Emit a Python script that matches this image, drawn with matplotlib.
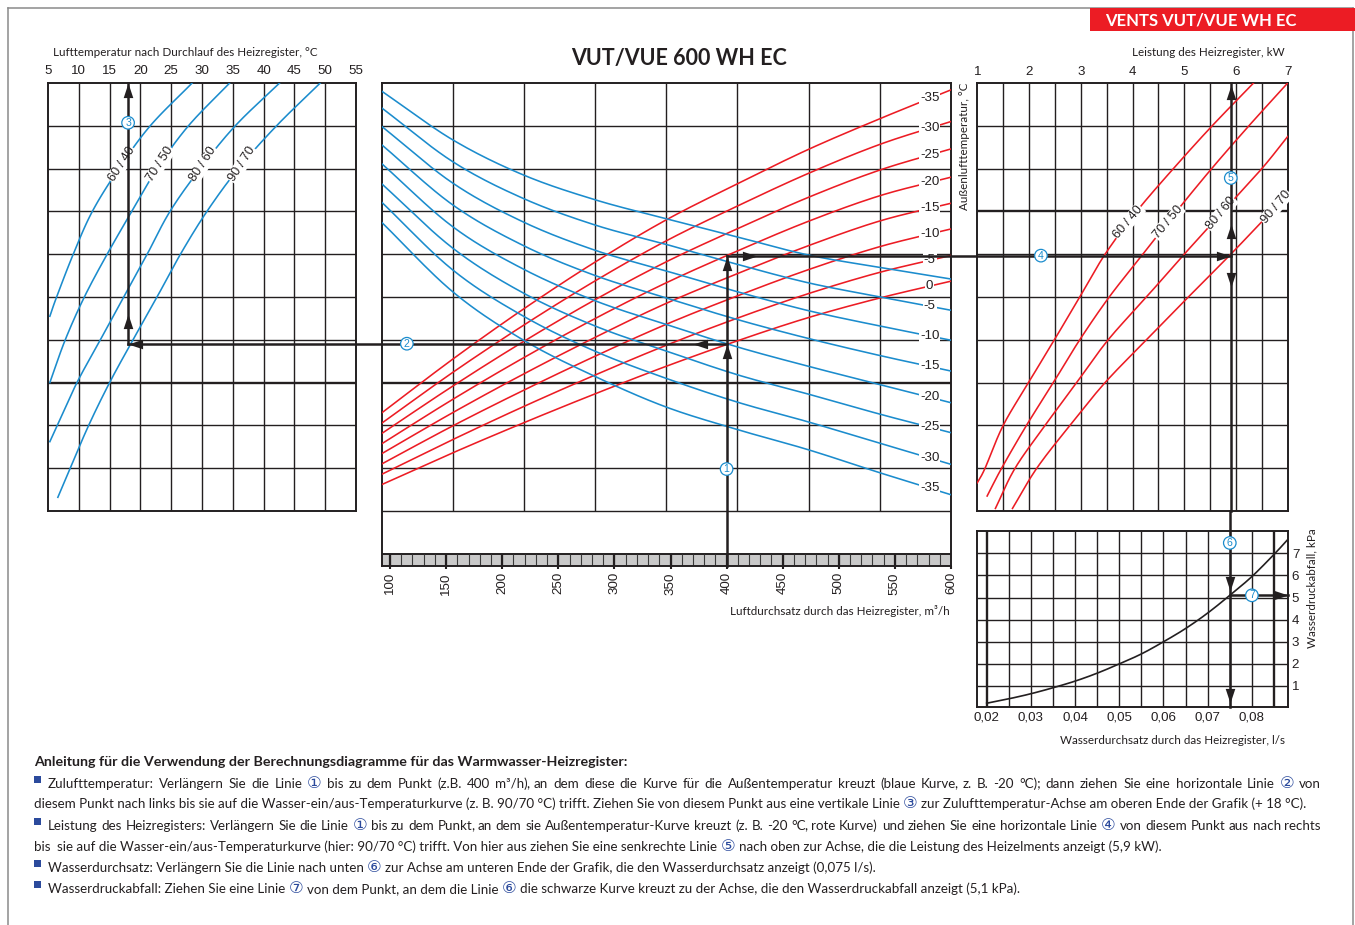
import numpy as np
import matplotlib
matplotlib.use("Agg")
import matplotlib.pyplot as plt
import matplotlib.transforms as mtransforms
from matplotlib.lines import Line2D
from matplotlib.patches import Rectangle

plt.rcParams['font.family'] = ['Lato', 'DejaVu Sans']

# ==============================================================================
# Data
# ==============================================================================
# centre chart: curves read at the grid columns (m3/h), values in grid rows (0 = bottom, 10 = top)
airflow = [92, 156, 219, 283, 346, 410, 473, 537, 600]

# blue family: supply air temperature, one row per outdoor temperature
blue_curves = {
    0:   [9.82, 8.67, 7.85, 7.27, 6.83, 6.40, 5.98, 5.69, 5.42],
    -5:  [9.43, 8.16, 7.30, 6.68, 6.23, 5.76, 5.33, 5.00, 4.69],
    -10: [9.00, 7.66, 6.75, 6.09, 5.61, 5.12, 4.68, 4.32, 3.99],
    -15: [8.57, 7.15, 6.20, 5.50, 4.98, 4.47, 4.03, 3.63, 3.27],
    -20: [8.13, 6.64, 5.65, 4.91, 4.36, 3.83, 3.38, 2.95, 2.53],
    -25: [7.66, 6.14, 5.09, 4.32, 3.74, 3.18, 2.73, 2.26, 1.83],
    -30: [7.23, 5.63, 4.55, 3.73, 3.10, 2.54, 2.08, 1.58, 1.09],
    -35: [6.76, 5.12, 3.99, 3.14, 2.43, 1.90, 1.43, 0.89, 0.38],
}

# red family: heater output, one row per outdoor temperature
red_curves = {
    -35: [2.28, 3.55, 4.72, 5.82, 6.80, 7.65, 8.45, 9.17, 9.84],
    -30: [2.04, 3.24, 4.34, 5.38, 6.31, 7.13, 7.89, 8.57, 9.10],
    -25: [1.80, 2.92, 3.96, 4.94, 5.82, 6.60, 7.33, 7.97, 8.46],
    -20: [1.56, 2.61, 3.58, 4.50, 5.33, 6.08, 6.77, 7.37, 7.80],
    -15: [1.33, 2.30, 3.20, 4.06, 4.85, 5.55, 6.20, 6.78, 7.19],
    -10: [1.09, 1.99, 2.82, 3.62, 4.36, 5.03, 5.64, 6.18, 6.59],
    -5:  [0.85, 1.67, 2.44, 3.18, 3.87, 4.51, 5.08, 5.58, 5.97],
    0:   [0.61, 1.36, 2.06, 2.74, 3.38, 3.98, 4.52, 4.98, 5.37],
}

# left chart: supply air temperature (deg C) against grid row, per water in/out pair
water_pairs = ['60 / 40', '70 / 50', '80 / 60', '90 / 70']
supply_rows = [
    [4.55, 5, 6, 7, 8, 9, 10],
    [3.0, 4, 5, 6, 7, 8, 9, 10],
    [1.62, 2, 3, 4, 5, 6, 7, 8, 9, 10],
    [0.32, 1, 2, 3, 4, 5, 6, 7, 8, 9, 10],
]
supply_temp = [
    [5.3, 6.4, 9.1, 12.2, 16.5, 21.6, 28.4],
    [5.3, 7.8, 10.9, 14.6, 18.6, 22.7, 27.8, 34.5],
    [5.3, 6.5, 9.7, 13.5, 17.3, 21.1, 24.8, 29.7, 35.4, 42.6],
    [6.6, 8.6, 11.6, 15.0, 18.8, 22.7, 26.5, 30.8, 35.9, 42.1, 49.2],
]

# right chart: heater output (kW) against grid row
power_rows = [
    [0.66, 1, 2, 3, 4, 5, 6, 7, 8, 9, 10],
    [0.35, 1, 2, 3, 4, 5, 6, 7, 8, 9, 10],
    [0.06, 1, 2, 3, 4, 5, 6, 7, 8, 8.75],
    [0.06, 1, 2, 3, 4, 5, 6, 7, 7.39],
]
power_kw = [
    [1.0, 1.15, 1.50, 1.99, 2.49, 2.98, 3.47, 4.08, 4.79, 5.54, 6.34],
    [1.19, 1.47, 1.95, 2.47, 2.98, 3.55, 4.20, 4.85, 5.53, 6.25, 7.0],
    [1.35, 1.73, 2.31, 2.92, 3.53, 4.27, 5.00, 5.75, 6.50, 7.0],
    [1.68, 2.15, 2.79, 3.47, 4.27, 5.08, 5.90, 6.69, 7.0],
]

# water pressure drop curve
water_flow = [0.02, 0.025, 0.03, 0.035, 0.04, 0.045, 0.05, 0.055, 0.06, 0.065, 0.07, 0.075, 0.08, 0.085, 0.088]
pressure_drop = [0.22, 0.42, 0.65, 0.92, 1.22, 1.58, 2.0, 2.45, 3.0, 3.6, 4.3, 5.1, 5.95, 6.95, 7.6]

# worked example
example_airflow = 400       # m3/h
example_outdoor = -20       # deg C
example_supply = 18         # deg C
example_power = 5.9         # kW
example_water_flow = 0.075  # l/s
example_drop = 5.1          # kPa

left_ticks = list(range(5, 56, 5))
airflow_ticks = list(range(100, 601, 50))
power_ticks = [1, 2, 3, 4, 5, 6, 7]
flow_ticks = [0.02, 0.03, 0.04, 0.05, 0.06, 0.07, 0.08]
flow_labels = ['0,02', '0,03', '0,04', '0,05', '0,06', '0,07', '0,08']
drop_ticks = [1, 2, 3, 4, 5, 6, 7]

notes_title = 'Anleitung für die Verwendung der Berechnungsdiagramme für das Warmwasser-Heizregister:'
notes = [
    (True, True, 'Zulufttemperatur: Verlängern Sie die Linie ① bis zu dem Punkt (z.B. 400 m³/h), an dem diese die Kurve '
                 'für die Außentemperatur kreuzt (blaue Kurve, z. B. -20 °C); dann ziehen Sie eine horizontale Linie ② von'),
    (False, False, 'diesem Punkt nach links bis sie auf die Wasser-ein/aus-Temperaturkurve (z. B. 90/70 °C) trifft. Ziehen Sie '
                   'von diesem Punkt aus eine vertikale Linie ③ zur Zulufttemperatur-Achse am oberen Ende der Grafik (+ 18 °C).'),
    (True, True, 'Leistung des Heizregisters: Verlängern Sie die Linie ① bis zu dem Punkt, an dem sie Außentemperatur-Kurve '
                 'kreuzt (z. B. -20 °C, rote Kurve) und ziehen Sie eine horizontale Linie ④ von diesem Punkt aus nach rechts'),
    (False, False, 'bis  sie auf die Wasser-ein/aus-Temperaturkurve (hier: 90/70 °C) trifft. Von hier aus ziehen Sie eine '
                   'senkrechte Linie ⑤ nach oben zur Achse, die die Leistung des Heizelments anzeigt (5,9 kW).'),
    (True, False, 'Wasserdurchsatz: Verlängern Sie die Linie nach unten ⑥ zur Achse am unteren Ende der Grafik, die den '
                  'Wasserdurchsatz anzeigt (0,075 l/s).'),
    (True, False, 'Wasserdruckabfall: Ziehen Sie eine Linie ⑦ von dem Punkt, an dem die Linie ⑥ die schwarze Kurve kreuzt '
                  'zu der Achse, die den Wasserdruckabfall anzeigt (5,1 kPa).'),
]
CIRCLED = '①②③④⑤⑥⑦'

# ==============================================================================
# Style
# ==============================================================================
W, H = 1355, 925
INK = '#231f20'
RED = '#ec1c24'
BLUE = '#1b8ccd'
NAVY = '#2b4a9c'
NUM = 'Liberation Sans'
GRID_LW = 1.0
THICK_LW = 1.7
ARROW_LW = 1.8
CAPTION = 8.4

fig = plt.figure(figsize=(W / 100, H / 100), dpi=100)
fig.patch.set_facecolor('white')


def fxy(x, y):
    return x / W, 1 - y / H


def panel(x0, y0, x1, y1):
    ax = fig.add_axes([x0 / W, 1 - y1 / H, (x1 - x0) / W, (y1 - y0) / H])
    ax.patch.set_alpha(0)
    for s in ax.spines.values():
        s.set_linewidth(1.4)
        s.set_color(INK)
    ax.tick_params(length=0, labelsize=9.6, colors=INK)
    return ax


def smooth(xs, ys, n=20):
    # Catmull-Rom path through the read points, only for drawing
    p = np.column_stack([xs, ys]).astype(float)
    p = np.vstack([2 * p[0] - p[1], p, 2 * p[-1] - p[-2]])
    t = np.linspace(0, 1, n, endpoint=False)[:, None]
    out = []
    for i in range(1, len(p) - 2):
        p0, p1, p2, p3 = p[i - 1], p[i], p[i + 1], p[i + 2]
        out.append(0.5 * (2 * p1 + (-p0 + p2) * t + (2 * p0 - 5 * p1 + 4 * p2 - p3) * t ** 2
                          + (-p0 + 3 * p1 - 3 * p2 + p3) * t ** 3))
    out.append(p[-2][None, :])
    out = np.vstack(out)
    return out[:, 0], out[:, 1]


HEADS = {
    'up':    [(0, 0), (-0.33, -1), (0.33, -1), (0, 0)],
    'down':  [(0, 0), (-0.33, 1), (0.33, 1), (0, 0)],
    'left':  [(0, 0), (1, -0.33), (1, 0.33), (0, 0)],
    'right': [(0, 0), (-1, -0.33), (-1, 0.33), (0, 0)],
}


def head(ax, x, y, way, dx=0, dy=0):
    tr = mtransforms.offset_copy(ax.transData, fig=fig, x=dx, y=dy, units='dots')
    ax.plot([x], [y], marker=HEADS[way], ms=21, color=INK, mew=0, transform=tr,
            clip_on=False, zorder=8)


def step(ax, x, y, num):
    ax.text(x, y, str(num), ha='center', va='center', fontsize=7.6, color=BLUE, family=NUM,
            zorder=9, bbox=dict(boxstyle='circle,pad=0.12', fc='white', ec=BLUE, lw=0.9))


def carry(pt, src, dst):
    return dst.transData.inverted().transform(src.transData.transform(pt))


def guide(ax, xs, ys):
    ax.plot(xs, ys, color=INK, lw=ARROW_LW, solid_capstyle='projecting', clip_on=False, zorder=7)


# ==============================================================================
# Left: supply air temperature
# ==============================================================================
ax_l = panel(48, 83, 356, 511)
ax_l.set_xlim(5, 55)
ax_l.set_ylim(0, 10)
ax_l.vlines(left_ticks[1:-1], 0, 10, color=INK, lw=GRID_LW, zorder=1)
for r in range(1, 10):
    ax_l.axhline(r, color=INK, lw=THICK_LW if r == 3 else GRID_LW, zorder=1)
ax_l.xaxis.tick_top()
ax_l.set_xticks(left_ticks)
ax_l.set_xticklabels([str(v) for v in left_ticks], family=NUM, fontsize=9.6)
ax_l.tick_params(axis='x', pad=4.5)
ax_l.set_yticks([])
for rows, temps, name in zip(supply_rows, supply_temp, water_pairs):
    sx, sy = smooth(temps, rows)
    ax_l.plot(sx, sy, color=BLUE, lw=1.15, zorder=3)
    lab_y = 8.1
    ax_l.text(np.interp(lab_y, sy, sx), lab_y, name, rotation=57, ha='center', va='center',
              fontsize=9.2, family=NUM, color=INK, zorder=4,
              bbox=dict(boxstyle='square,pad=0.05', fc='white', ec='none'))
fig.text(*fxy(185, 52), 'Lufttemperatur nach Durchlauf des Heizregister, °C', ha='center', va='center',
         fontsize=CAPTION, color=INK)

# ==============================================================================
# Centre: airflow
# ==============================================================================
ax_m = panel(381.5, 83, 951, 566)
ax_m.set_xlim(92.4, 600)
ax_m.set_ylim(-1.285, 10)
cols = np.linspace(92.4, 600, 9)
ax_m.vlines(cols[1:-1], 0, 10, color=INK, lw=GRID_LW, zorder=1)
for r in range(0, 10):
    ax_m.axhline(r, color=INK, lw=THICK_LW if r == 3 else GRID_LW, zorder=1)
ax_m.axhline(-1.0, color=INK, lw=1.4, zorder=2)
ax_m.add_patch(Rectangle((92.4, -1.285), 600 - 92.4, 0.285, fc='#c9c9c9', ec='none', zorder=1))
ax_m.vlines(np.arange(100, 600, 10), -1.285, -1.0, color='#3a3a3a', lw=0.8, zorder=2)
ax_m.vlines(airflow_ticks[:-1], -1.285, -1.0, color=INK, lw=1.6, zorder=2)
ax_m.set_xticks(airflow_ticks)
ax_m.set_xticklabels([str(v) for v in airflow_ticks], rotation=90, family=NUM, fontsize=9.6)
ax_m.tick_params(axis='x', length=2.5, width=1.5, direction='out', pad=2)
ax_m.set_yticks([])

label_x = 581
for t, vals in red_curves.items():
    sx, sy = smooth(airflow, vals)
    ax_m.plot(sx, sy, color=RED, lw=1.15, zorder=3)
    ax_m.text(label_x, np.interp(label_x, sx, sy), str(t), ha='center', va='center', fontsize=9.6,
              family=NUM, color=INK, zorder=5, bbox=dict(boxstyle='square,pad=0.08', fc='white', ec='none'))
for t, vals in blue_curves.items():
    sx, sy = smooth(airflow, vals)
    ax_m.plot(sx, sy, color=BLUE, lw=1.15, zorder=3)
    if t != 0:
        ax_m.text(label_x, np.interp(label_x, sx, sy), str(t), ha='center', va='center', fontsize=9.6,
                  family=NUM, color=INK, zorder=5, bbox=dict(boxstyle='square,pad=0.08', fc='white', ec='none'))

fig.text(*fxy(679, 59), 'VUT/VUE 600 WH EC', ha='center', va='center', fontsize=15.5,
         weight='bold', color=INK)
fig.text(*fxy(950, 611), 'Luftdurchsatz durch das Heizregister, m³/h', ha='right', va='center',
         fontsize=CAPTION, color=INK)
fig.text(*fxy(964, 83), 'Außenlufttemperatur, °C', rotation=90, ha='center', va='top',
         fontsize=CAPTION, color=INK)

# ==============================================================================
# Right: heater output
# ==============================================================================
ax_r = panel(977.3, 83, 1287.7, 511)
ax_r.set_xlim(1, 7)
ax_r.set_ylim(0, 10)
ax_r.vlines(np.arange(1.5, 7, 0.5), 0, 10, color=INK, lw=GRID_LW, zorder=1)
for r in range(1, 10):
    ax_r.axhline(r, color=INK, lw=THICK_LW if r == 7 else GRID_LW, zorder=1)
ax_r.xaxis.tick_top()
ax_r.set_xticks(power_ticks)
ax_r.set_xticklabels([str(v) for v in power_ticks], family=NUM, fontsize=9.6)
ax_r.tick_params(axis='x', pad=3.5)
ax_r.set_yticks([])
power_label_rows = [6.75, 6.75, 6.95, 7.1]
for rows, kw, name, lab_y in zip(power_rows, power_kw, water_pairs, power_label_rows):
    sx, sy = smooth(kw, rows)
    ax_r.plot(sx, sy, color=RED, lw=1.15, zorder=3)
    ax_r.text(np.interp(lab_y, sy, sx), lab_y, name, rotation=50, ha='center', va='center',
              fontsize=9.2, family=NUM, color=INK, zorder=4,
              bbox=dict(boxstyle='square,pad=0.05', fc='white', ec='none'))
fig.text(*fxy(1285, 52), 'Leistung des Heizregister, kW', ha='right', va='center', fontsize=CAPTION,
         color=INK)

# ==============================================================================
# Bottom right: water pressure drop
# ==============================================================================
ax_d = panel(977.3, 531, 1287.7, 707)
ax_d.set_xlim(0.01788, 0.0881)
ax_d.set_ylim(0.05, 8.01)
vgrid = np.arange(0.02, 0.0851, 0.005)
ax_d.vlines(vgrid, 0.05, 8.01, color=INK,
            lw=[THICK_LW if i in (0, len(vgrid) - 1) else GRID_LW for i in range(len(vgrid))], zorder=1)
ax_d.hlines(drop_ticks, 0.01788, 0.0881, color=INK, lw=GRID_LW, zorder=1)
sx, sy = smooth(water_flow, pressure_drop)
ax_d.plot(sx, sy, color=INK, lw=1.2, zorder=3)
ax_d.set_xticks(flow_ticks)
ax_d.set_xticklabels(flow_labels, family=NUM, fontsize=9.6)
ax_d.tick_params(axis='x', pad=3)
ax_d.yaxis.tick_right()
ax_d.set_yticks(drop_ticks)
ax_d.set_yticklabels([str(v) for v in drop_ticks], family=NUM, fontsize=9.6)
ax_d.tick_params(axis='y', pad=3)
fig.text(*fxy(1285, 740), 'Wasserdurchsatz durch das Heizregister, l/s', ha='right', va='center',
         fontsize=CAPTION, color=INK)
fig.text(*fxy(1312, 528), 'Wasserdruckabfall, kPa', rotation=90, ha='center', va='top',
         fontsize=CAPTION, color=INK)

# ==============================================================================
# Worked example
# ==============================================================================
y_supply = np.interp(example_airflow, *smooth(airflow, blue_curves[example_outdoor]))
y_power = np.interp(example_airflow, *smooth(airflow, red_curves[example_outdoor]))

# (1) up from the airflow axis
guide(ax_m, [example_airflow, example_airflow], [-1.285, y_power])
head(ax_m, example_airflow, y_supply, 'up')
head(ax_m, example_airflow, y_power, 'up')
step(ax_m, example_airflow, 0.98, 1)

# (2) left to the water temperature curve
x_end = carry((example_supply, y_supply), ax_l, ax_m)[0]
guide(ax_m, [example_airflow, x_end], [y_supply, y_supply])
head(ax_m, example_airflow, y_supply, 'left', dx=-34)
head(ax_l, example_supply, y_supply, 'left')
step(ax_m, 115, y_supply, 2)

# (3) up to the supply temperature axis
guide(ax_l, [example_supply, example_supply], [y_supply, 10])
head(ax_l, example_supply, y_supply, 'up', dy=30)
head(ax_l, example_supply, 10, 'up')
step(ax_l, example_supply, 9.07, 3)

# (4) right to the output curve
x_start = carry((example_airflow, y_power), ax_m, ax_r)[0]
guide(ax_r, [x_start, example_power], [y_power, y_power])
head(ax_m, example_airflow, y_power, 'right', dx=30)
head(ax_r, example_power, y_power, 'right')
step(ax_r, 2.23, y_power, 4)

# (5) up to the output axis, (6) down to the water flow axis
guide(ax_r, [example_power, example_power], [0, 10])
head(ax_r, example_power, 10, 'up', dy=-2)
head(ax_r, example_power, y_power, 'up', dy=32)
head(ax_r, example_power, y_power, 'down', dy=-31)
step(ax_r, example_power, 7.78, 5)
y_gap = carry((example_power, 0), ax_r, ax_d)[1]
guide(ax_d, [example_water_flow, example_water_flow], [0.05, y_gap])
head(ax_d, example_water_flow, example_drop, 'down', dy=4)
head(ax_d, example_water_flow, 0.05, 'down', dy=4)
step(ax_d, example_water_flow, 7.47, 6)

# (7) right to the pressure drop axis
guide(ax_d, [example_water_flow, 0.0881], [example_drop, example_drop])
head(ax_d, 0.0881, example_drop, 'right')
step(ax_d, 0.08, example_drop, 7)

# ==============================================================================
# Page frame and banner
# ==============================================================================
for xs, ys in [((8, 8), (8, 925)), ((8, 1353), (8, 8)), ((1353, 1353), (8, 925))]:
    fig.add_artist(Line2D([x / W for x in xs], [1 - y / H for y in ys], color='#8a8a8a', lw=1.1))
fig.add_artist(Rectangle(fxy(1090, 30.5), 265 / W, 22.5 / H, transform=fig.transFigure,
                         fc=RED, ec='none', zorder=3))
fig.text(*fxy(1201, 20), 'VENTS VUT/VUE WH EC', ha='center', va='center', fontsize=12,
         weight='bold', color='white', zorder=4)

# ==============================================================================
# Notes
# ==============================================================================
renderer = fig.canvas.get_renderer()
BODY = dict(family='Lato', color=INK)
DIGIT = dict(family=['DejaVu Sans'], color=NAVY)


def width_of(s, **kw):
    t = fig.text(0, 0, s, **kw)
    w = t.get_window_extent(renderer).width
    t.remove()
    return w


def pieces(text, justify):
    # split a line into runs: circled digits on their own, body text per word when justified
    # (run text, is digit, gap after, kern before)
    out, run = [], []
    for word in text.split(' '):
        if word in CIRCLED:
            if run:
                out.append((' '.join(run), False, True, 0))
                run = []
            out.append((word, True, True, 0))
        elif justify:
            if word.endswith(','):
                out.append((word[:-1], False, False, 0))
                out.append((',', False, True, -1.5))
            else:
                out.append((word, False, True, 0))
        else:
            run.append(word)
    if run:
        out.append((' '.join(run), False, True, 0))
    return out


def note_line(y, text, bullet, justify, size):
    x0 = 48 if bullet else 34
    if bullet:
        fig.add_artist(Rectangle(fxy(34, y - 5), 7 / W, 7 / H, transform=fig.transFigure,
                                 fc=NAVY, ec='none'))
    items = []
    for s, circled, spaced, kern in pieces(text, justify):
        style = DIGIT if circled else BODY
        t = fig.text(0, 1 - y / H, s, fontsize=size * (1.22 if circled else 1.0),
                     va='baseline', ha='left', **style)
        items.append((t, t.get_window_extent(renderer).width, spaced, kern))
    n_gaps = sum(1 for it in items[:-1] if it[2])
    if justify:
        gap = (1321 - x0 - sum(it[1] + it[3] for it in items)) / n_gaps
    else:
        gap = space
    x = x0
    for t, w, spaced, kern in items:
        x += kern
        t.set_x(x / W)
        x += w + (gap if spaced else 0)


body_size = 9.0
natural = width_of(notes[1][2], fontsize=body_size, **BODY)
body_size *= (1312 - 34) / natural
space = width_of('a a', fontsize=body_size, **BODY) - width_of('aa', fontsize=body_size, **BODY)

title_size = 9.0
title_size *= (630 - 34) / width_of(notes_title, fontsize=title_size, weight='bold', **BODY)
fig.text(*fxy(34, 766), notes_title, fontsize=title_size, weight='bold', va='baseline', ha='left', **BODY)

for y, (bullet, justify, text) in zip([788, 808, 830, 851, 872, 893], notes):
    note_line(y, text, bullet, justify, body_size)

fig.savefig('out.png', dpi=100, facecolor='white')
